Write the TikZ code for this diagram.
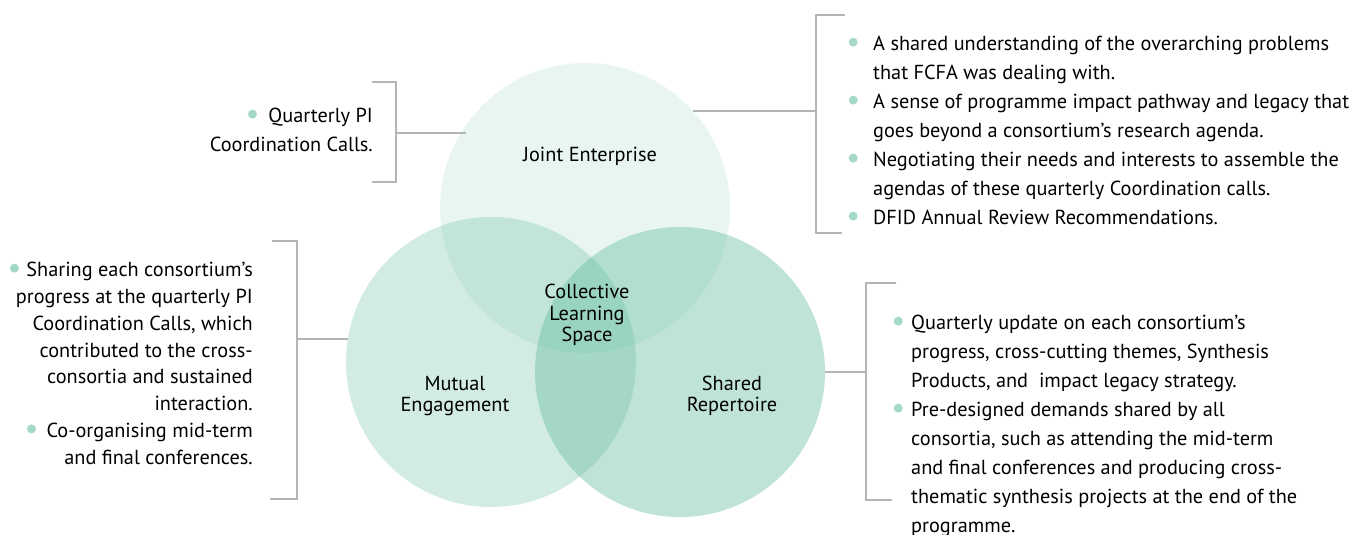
\documentclass[tikz,border=0pt]{standalone}
\usepackage{fontspec}
\setmainfont{PT Sans}
\usetikzlibrary{calc}
\definecolor{venn}{RGB}{90,185,150}
\definecolor{dotc}{RGB}{163,217,198}
\definecolor{brkc}{RGB}{180,180,180}
\newcommand{\bdot}[1][9pt]{\tikz[baseline=-8.5pt]\fill[dotc] (0,0) circle[radius=4.5pt];\hspace{#1}}
\tikzset{
  vennset/.style={circle,inner sep=0pt,minimum size=290pt,fill=venn,fill opacity=#1},
  brk/.style={draw=brkc,line width=2.4pt},
  lbl/.style={align=center,inner sep=0pt,font=\fontsize{20.3}{21.5}\selectfont},
  note/.style={inner sep=0pt,font=\fontsize{20.3}{29}\selectfont}
}

\begin{document}
\begin{tikzpicture}[x=1pt,y=-1pt]
      \useasboundingbox (0,0) rectangle (1370,535);
      \node[vennset=0.14] (je) at (585,208) {};
      \node[vennset=0.27] (me) at (491,362) {};
      \node[vennset=0.39] (sr) at (680,372) {};
      \node[lbl] (jet) at (590,156) {Joint Enterprise};
      \node[lbl] (cls) at (587,315) {Collective\\Learning\\Space};
      \node[lbl] (met) at (455,396) {Mutual\\Engagement};
      \node[lbl] (srt) at (732,396) {Shared\\Repertoire};

      \coordinate (tla) at (372,82);
      \coordinate (tlb) at (396,82);
      \coordinate (tlc) at (396,182);
      \coordinate (tld) at (372,182);
      \coordinate (tlm) at (396,133);
      \draw[brk] (tla)--(tlb)--(tlc)--(tld);
      \draw[brk] (tlm)--(tlm -| je.145);
      \node[note,anchor=north east,align=right] (tlx) at (373,108)
        {\bdot[11.5pt]Quarterly PI\\Coordination Calls.};

      \coordinate (tra) at (845,15);
      \coordinate (trb) at (816,15);
      \coordinate (trc) at (816,233);
      \coordinate (trd) at (842,233);
      \draw[brk] (tra)--(trb)--(trc)--(trd);
      \draw[brk] (je.42)--(je.42 -| trb);
      \node[note,anchor=north west,align=left] (trx) at (873,36)
        {\llap{\bdot[15.5pt]}A shared understanding of the overarching problems\\
         that FCFA was dealing with.\\
         \llap{\bdot[15.5pt]}A sense of programme impact pathway and legacy that\\
         goes beyond a consortium’s research agenda.\\
         \llap{\bdot[15.5pt]}Negotiating their needs and interests to assemble the\\
         agendas of these quarterly Coordination calls.\\
         \llap{\bdot[15.5pt]}DFID Annual Review Recommendations.};

      \coordinate (la) at (272,241);
      \coordinate (lb) at (297,241);
      \coordinate (lc) at (297,499);
      \coordinate (ld) at (270,499);
      \draw[brk] (la)--(lb)--(lc)--(ld);
      \draw[brk] (me.171)--(me.171 -| lb);
      \node[note,anchor=north east,align=right,font=\fontsize{20.3}{26.8}\selectfont] (lx) at (253,262)
        {\bdot[7.5pt]Sharing each consortium’s\\
         progress at the quarterly PI\\
         Coordination Calls, which\\
         contributed to the cross-\\
         consortia and sustained\\
         interaction.\\
         \bdot[10.5pt]Co-organising mid-term\\
         and final conferences.};

      \coordinate (ra) at (896,283);
      \coordinate (rb) at (866,283);
      \coordinate (rc) at (866,500);
      \coordinate (rd) at (892,500);
      \draw[brk] (ra)--(rb)--(rc)--(rd);
      \draw[brk] (sr.east)--(sr.east -| rb);
      \node[note,anchor=north west,align=left] (rx) at (911,315)
        {\llap{\bdot[8.5pt]}Quarterly update on each consortium’s\\
         progress, cross-cutting themes, Synthesis\\
         Products, and~ impact legacy strategy.\\
         \llap{\bdot[8.5pt]}Pre-designed demands shared by all\\
         consortia, such as attending the mid-term\\
         and final conferences and producing cross-\\
         thematic synthesis projects at the end of the\\
         programme.};
\end{tikzpicture}
\end{document}
